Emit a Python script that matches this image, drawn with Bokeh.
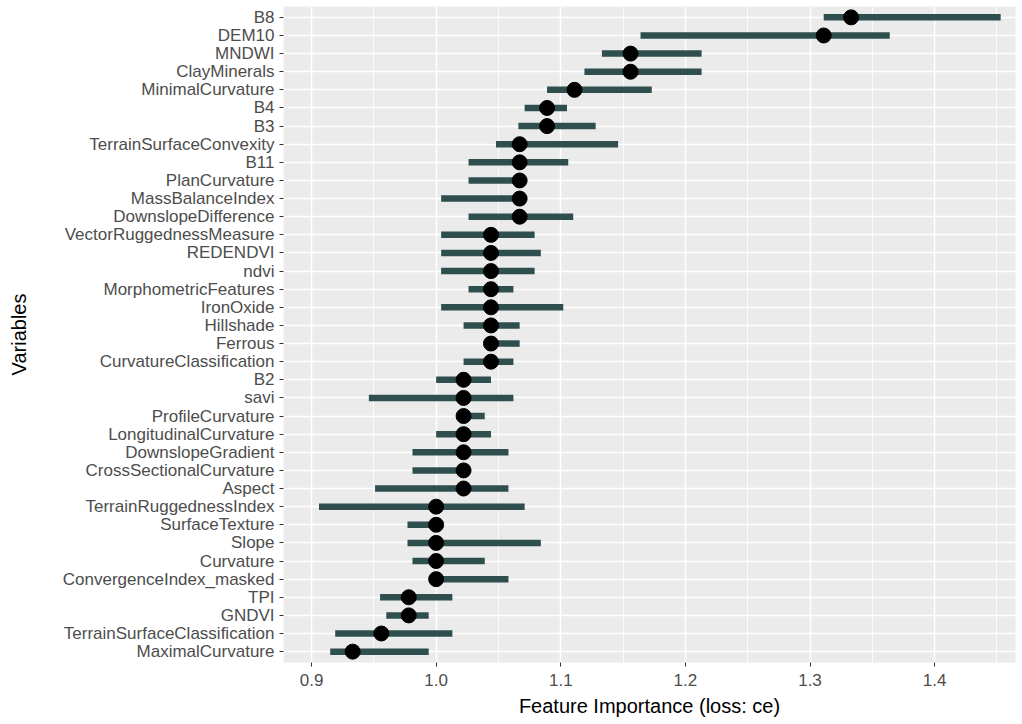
from bokeh.plotting import figure
from bokeh.models import FactorRange, Range1d, FixedTicker, ColumnDataSource
from bokeh.embed import file_html
from bokeh.resources import INLINE

# Variables listed from top to bottom of the chart
variables = ["B8", "DEM10", "MNDWI", "ClayMinerals", "MinimalCurvature", "B4", "B3",
             "TerrainSurfaceConvexity", "B11", "PlanCurvature", "MassBalanceIndex",
             "DownslopeDifference", "VectorRuggednessMeasure", "REDENDVI", "ndvi",
             "MorphometricFeatures", "IronOxide", "Hillshade", "Ferrous",
             "CurvatureClassification", "B2", "savi", "ProfileCurvature",
             "LongitudinalCurvature", "DownslopeGradient", "CrossSectionalCurvature",
             "Aspect", "TerrainRuggednessIndex", "SurfaceTexture", "Slope", "Curvature",
             "ConvergenceIndex_masked", "TPI", "GNDVI", "TerrainSurfaceClassification",
             "MaximalCurvature"]

importance = [1.333, 1.311, 1.156, 1.156, 1.111, 1.089, 1.089,
              1.067, 1.067, 1.067, 1.067,
              1.067, 1.044, 1.044, 1.044,
              1.044, 1.044, 1.044, 1.044,
              1.044, 1.022, 1.022, 1.022,
              1.022, 1.022, 1.022,
              1.022, 1.000, 1.000, 1.000, 1.000,
              1.000, 0.978, 0.978, 0.956,
              0.933]

lower = [1.311, 1.164, 1.133, 1.119, 1.089, 1.071, 1.066,
         1.048, 1.026, 1.026, 1.004,
         1.026, 1.004, 1.004, 1.004,
         1.026, 1.004, 1.022, 1.044,
         1.022, 1.000, 0.946, 1.022,
         1.000, 0.981, 0.981,
         0.951, 0.906, 0.977, 0.977, 0.981,
         1.000, 0.955, 0.960, 0.919,
         0.915]

upper = [1.453, 1.364, 1.213, 1.213, 1.173, 1.105, 1.128,
         1.146, 1.106, 1.067, 1.067,
         1.110, 1.079, 1.084, 1.079,
         1.062, 1.102, 1.067, 1.067,
         1.062, 1.044, 1.062, 1.039,
         1.044, 1.058, 1.022,
         1.058, 1.071, 1.000, 1.084, 1.039,
         1.058, 1.013, 0.994, 1.013,
         0.994]

x_ticks = [0.9, 1.0, 1.1, 1.2, 1.3, 1.4]
x_minor = [0.95, 1.05, 1.15, 1.25, 1.35, 1.45]

src = ColumnDataSource(dict(var=variables, imp=importance, lo=lower, hi=upper))

factors = list(reversed(variables))

p = figure(width=1022, height=724, output_backend="svg", toolbar_location=None,
           y_range=FactorRange(factors=factors, range_padding=0.1, range_padding_units="absolute"),
           x_range=Range1d(0.8775, 1.4649),
           min_border_left=283, min_border_right=7, min_border_top=6, min_border_bottom=62)

p.background_fill_color = "#EBEBEB"
p.border_fill_color = "white"
p.outline_line_color = None

p.segment(x0="lo", y0="var", x1="hi", y1="var", source=src,
          line_color="#2F4F4F", line_width=6.5)
p.scatter(x="imp", y="var", source=src, size=15, fill_color="black", line_color="black")

p.xaxis.ticker = FixedTicker(ticks=x_ticks, minor_ticks=x_minor)
p.xaxis.major_label_overrides = {t: f"{t:.1f}" for t in x_ticks}
p.xgrid.grid_line_color = "white"
p.xgrid.grid_line_width = 1.5
p.xgrid.minor_grid_line_color = "white"
p.xgrid.minor_grid_line_width = 0.8
p.ygrid.grid_line_color = "white"
p.ygrid.grid_line_width = 1.5

for ax in (p.xaxis, p.yaxis):
    ax.axis_line_color = None
    ax.major_tick_line_color = "#333333"
    ax.major_tick_line_width = 1
    ax.major_tick_out = 4
    ax.major_tick_in = 0
    ax.minor_tick_line_color = None
    ax.major_label_text_font = "Liberation Sans"
    ax.major_label_text_font_size = "17px"
    ax.major_label_text_color = "#4D4D4D"
    ax.axis_label_text_font = "Liberation Sans"
    ax.axis_label_text_font_size = "20px"
    ax.axis_label_text_font_style = "normal"
    ax.axis_label_text_color = "black"

p.xaxis.axis_label = "Feature Importance (loss: ce)"
p.yaxis.axis_label = "Variables"
p.xaxis.major_label_standoff = 7
p.yaxis.major_label_standoff = 5
p.xaxis.axis_label_standoff = 6
p.yaxis.axis_label_standoff = 30

open("out.html", "w").write(file_html(p, INLINE))
